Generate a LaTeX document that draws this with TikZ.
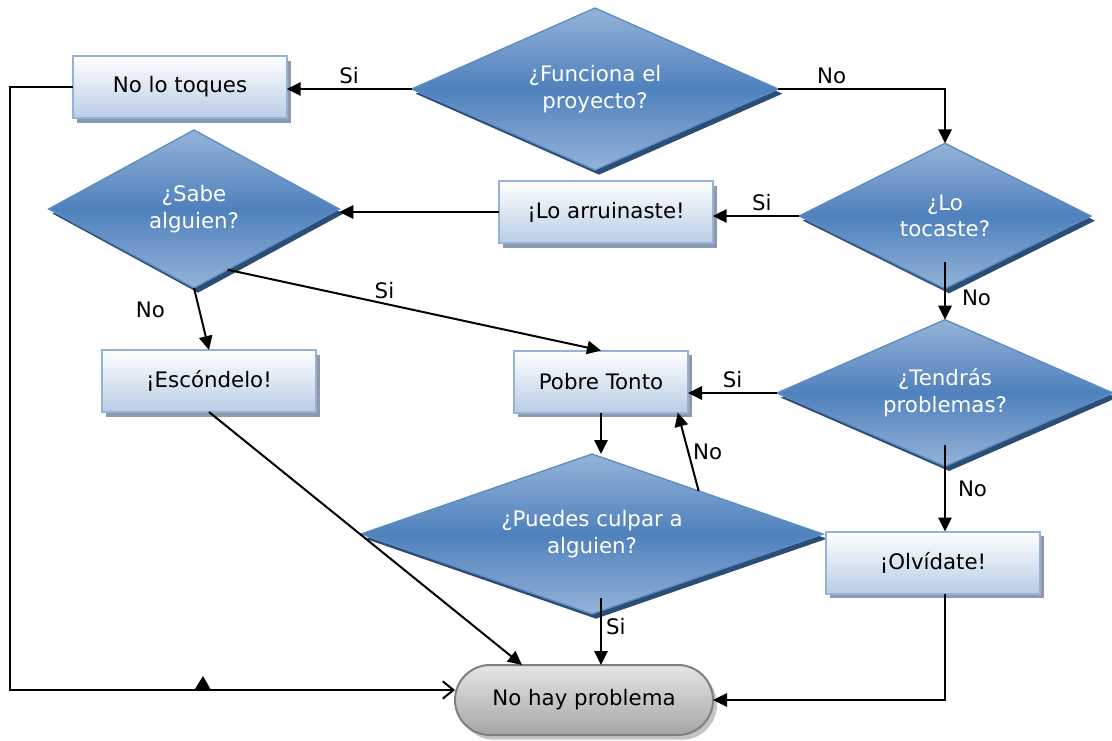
\documentclass[tikz,border=0pt]{standalone}
\usepackage{fontspec}
\setmainfont{DejaVu Sans}
\usetikzlibrary{positioning, arrows.meta, shapes, shadows}
\definecolor{decmid}{HTML}{4F81BD}
\definecolor{declight}{HTML}{95B3D7}
\definecolor{decedge}{HTML}{5B8CC8}
\definecolor{decshadow}{HTML}{2C4D75}
\definecolor{procbottom}{HTML}{B9CDE5}
\definecolor{procedge}{HTML}{95B3D7}
\definecolor{procshadow}{HTML}{8E9AAB}
\definecolor{termbottom}{HTML}{A5A5A5}
\definecolor{termedge}{HTML}{7F7F7F}
\definecolor{termshadow}{HTML}{C4C4C4}
\newcommand{\chartfont}{\fontsize{16pt}{20pt}\selectfont}

\begin{document}
\begin{tikzpicture}[x=0.75pt, y=-0.75pt,
  decision/.style={diamond, draw=decedge, line width=1pt, top color=declight, bottom color=declight, middle color=decmid, inner sep=0pt, outer sep=0pt, text=white, align=center, font=\chartfont, copy shadow={shadow xshift=3pt, shadow yshift=-3.5pt, fill=decshadow, draw=none}},
  process/.style={rectangle, draw=procedge, line width=1.5pt, top color=white, bottom color=procbottom, minimum width=160pt, minimum height=46.5pt, inner sep=0pt, outer sep=0pt, font=\chartfont, copy shadow={shadow xshift=3pt, shadow yshift=-3.5pt, fill=procshadow, draw=none}},
  endbox/.style={rounded rectangle, draw=termedge, line width=1.5pt, top color=white!90!black, bottom color=termbottom, minimum width=193.5pt, minimum height=52.5pt, inner sep=0pt, outer sep=0pt, font=\chartfont, copy shadow={shadow xshift=3pt, shadow yshift=-3.5pt, fill=termshadow, draw=none}},
  flow/.style={line width=1.5pt, -{Triangle[length=10.5pt, width=10pt]}},
  lbl/.style={font=\chartfont, inner sep=3pt}]
\useasboundingbox (0,0) rectangle (1112,740);

\node[decision, aspect=2.27, minimum width=275pt, minimum height=121.5pt] (fun) at (595,89) {¿Funciona el\\proyecto?};
\node[process] (toq) at (180,87) {No lo toques};
\node[decision, aspect=1.84, minimum width=218pt, minimum height=118.5pt] (sab) at (194,209) {¿Sabe\\alguien?};
\node[process] (arr) at (606,212) {¡Lo arruinaste!};
\node[decision, aspect=2, minimum width=219pt, minimum height=109pt] (toc) at (945,216) {¿Lo\\tocaste?};
\node[decision, aspect=2.3, minimum width=252pt, minimum height=110pt] (ten) at (945,393) {¿Tendrás\\problemas?};
\node[process] (esc) at (209,381) {¡Escóndelo!};
\node[process, minimum width=130.5pt] (pob) at (601,381.5) {Pobre Tonto};
\node[decision, aspect=2.9, minimum width=346.5pt, minimum height=120pt] (cul) at (592,534) {¿Puedes culpar a\\alguien?};
\node[process] (olv) at (933,562.5) {¡Olvídate!};
\node[endbox] (ter) at (584,700) {No hay problema};

\draw[flow] (fun.west) -- (fun.west -| toq.east) node[lbl, above, pos=.5] {Si};
\draw[flow] (fun.east) -| (toc.north) node[lbl, above, pos=.16] {No};
\draw[flow] (toc.west) -- (toc.west -| arr.east) node[lbl, above, pos=.43] {Si};
\draw[flow] (arr.west) -- (arr.west -| sab.east);
\draw[flow, shorten <=-20pt] (toc.south) -- (ten.north) node[lbl, right=9pt, pos=.3] {No};
\draw[flow] (ten.west) -- (ten.west -| pob.east) node[lbl, above, pos=.5] {Si};
\draw[flow, shorten <=-16pt] (ten.south) -- (ten.south |- olv.north) node[lbl, right=6pt, pos=.35] {No};
\draw[flow] (sab.south) -- (esc.north) node[lbl, left=22pt, pos=.35] {No};
\draw[flow] (sab.-61) -- (pob.north) node[lbl, above, pos=.42] {Si};
\draw[flow] (pob.south) -- (pob.south |- cul.north);
\draw[flow] (cul.22) -- (pob.-22) node[lbl, right, midway] {No};
\draw[flow, shorten <=-12pt] (pob.south |- cul.south) -- (pob.south |- ter.north) node[lbl, right, pos=.25] {Si};
\draw[flow] (esc.south) -- ([xshift=-46.5pt]ter.north);
\draw[line width=1.5pt, -{Straight Barb[length=8pt, width=13pt, line width=1.5pt]}] (toq.west) -- ++(-63,0) |- ([yshift=7.5pt]ter.west);
\draw[flow] (ten.south |- olv.south) |- (ter.east);
\fill (195,689) -- (203,676) -- (211,690) -- cycle;
\end{tikzpicture}
\end{document}
